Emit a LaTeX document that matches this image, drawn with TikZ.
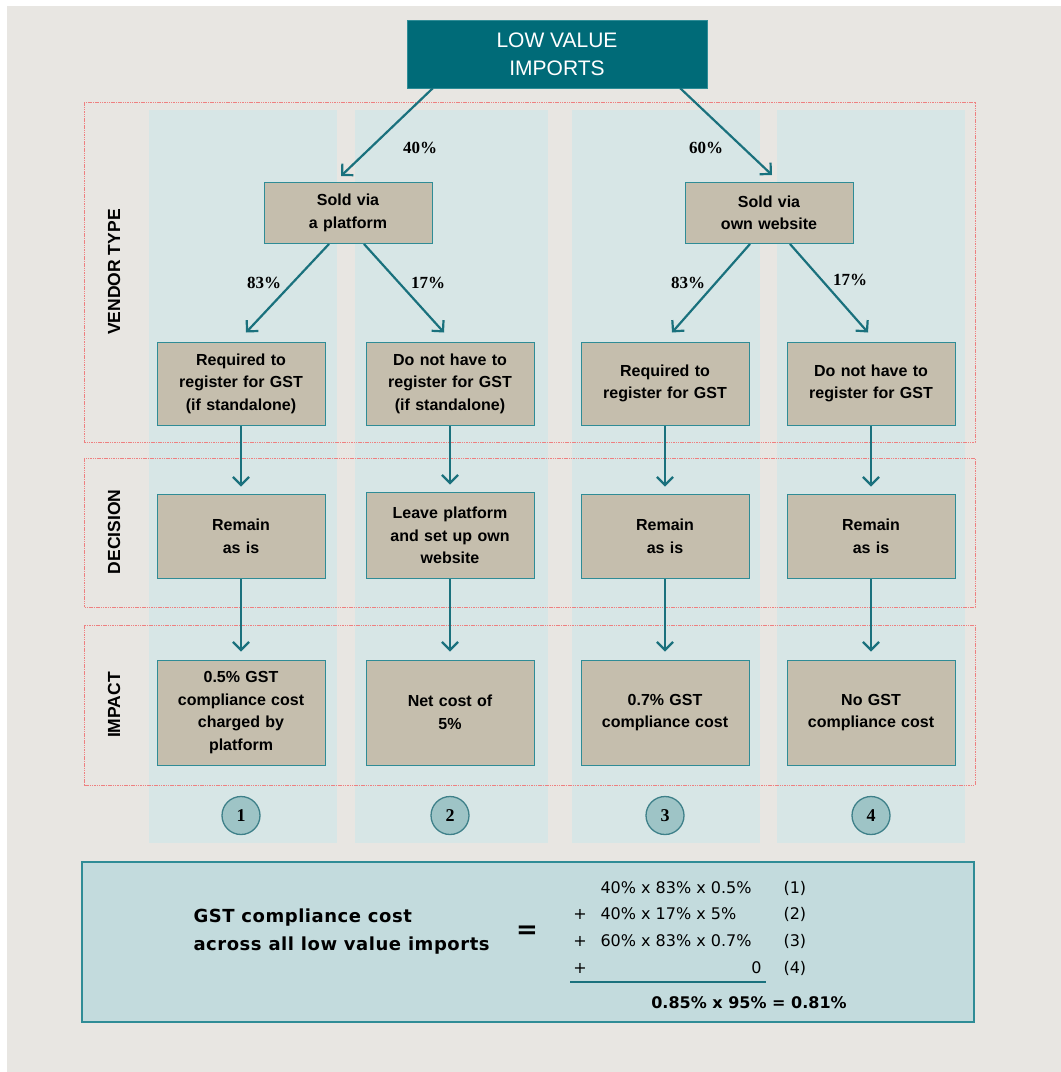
\documentclass[tikz,border=0pt]{standalone}
\usepackage{fontspec}
\setmainfont{Liberation Sans}
\newfontfamily\serfont{Liberation Serif}
\newfontfamily\dvfont{DejaVu Sans}
\newfontfamily\dvwide{DejaVu Sans}[LetterSpace=3]
\usetikzlibrary{arrows.meta,positioning}
\definecolor{bggray}{HTML}{E8E6E2}
\definecolor{colblue}{HTML}{D7E6E6}
\definecolor{boxtan}{HTML}{C5BEAD}
\definecolor{tealline}{HTML}{2F8C96}
\definecolor{tealarrow}{HTML}{1A717D}
\definecolor{tealdark}{HTML}{006B78}
\definecolor{circfill}{HTML}{9EC4C6}
\definecolor{circline}{HTML}{3E8089}
\definecolor{sumfill}{HTML}{C3DBDD}
\definecolor{sectred}{HTML}{EE8080}
\begin{document}
\begin{tikzpicture}[x=1pt,y=-1pt,node distance=209pt]
\tikzstyle{box}=[draw=tealline,fill=boxtan,line width=1pt,minimum width=168pt,text width=160pt,align=center,font=\fontsize{16}{22.5}\selectfont\bfseries]
\tikzstyle{topbox}=[draw=tealline,fill=tealdark,minimum width=300pt,minimum height=68pt,text=white,align=center,font=\fontsize{21}{28}\selectfont]
\tikzstyle{pct}=[font=\serfont\bfseries\fontsize{17}{20}\selectfont]
\tikzstyle{lab}=[rotate=90,font=\bfseries\fontsize{17.5}{20}\selectfont]
\tikzstyle{flow}=[draw=tealarrow,line width=2.2pt,-{Straight Barb[length=8pt,width=16pt]}]
\tikzstyle{sect}=[draw=sectred,line width=0.8pt,dash pattern=on 1.5pt off 0.8pt]
\tikzstyle{num}=[circle,draw=circline,fill=circfill,line width=1.3pt,minimum size=38pt,inner sep=0pt,font=\serfont\bfseries\fontsize{18}{20}\selectfont]
\tikzstyle{sumbox}=[draw=tealline,fill=sumfill,line width=1.5pt,minimum width=892pt,minimum height=160pt]
\tikzstyle{calc}=[font=\dvfont\fontsize{16}{19}\selectfont]
\useasboundingbox (0,0) rectangle (1061,1072);
\fill[bggray] (7,6) rectangle (1061,1072);
\foreach \a/\b in {149/337,355/548,572/760,777/965}
  \fill[colblue] (\a,110) rectangle (\b,843);
\draw[sect] (84,102) rectangle (975,442);
\draw[sect] (84,458) rectangle (975,607);
\draw[sect] (84,625) rectangle (975,785);
\node[lab] (vt) at (114,272) {VENDOR TYPE};
\node[lab] (dc) at (114,532) {DECISION};
\node[lab] (im) at (114,705) {IMPACT};

\node[topbox] (lvi) at (557,54) {LOW VALUE\\IMPORTS};
\node[box,minimum height=61pt] (plat) at (348,213) {Sold via\\a platform};
\node[box,minimum height=61pt] (own) [right of=plat,node distance=421pt] {Sold via\\own website};
\node[box,minimum height=83pt] (r1) at (241,383.5) {Required to\\register for GST\\(if standalone)};
\node[box,minimum height=83pt] (r2) [right of=r1] {Do not have to\\register for GST\\(if standalone)};
\node[box,minimum height=83pt] (r3) at (665,383.5) {Required to\\register for GST};
\node[box,minimum height=83pt] (r4) [right of=r3,node distance=206pt] {Do not have to\\register for GST};

\node[box,minimum height=84pt] (d1) [below of=r1,node distance=153pt] {Remain\\as is};
\node[box,minimum height=86pt] (d2) [below of=r2,node distance=152pt] {Leave platform\\and set up own\\website};
\node[box,minimum height=84pt] (d3) [below of=r3,node distance=153pt] {Remain\\as is};
\node[box,minimum height=84pt] (d4) [below of=r4,node distance=153pt] {Remain\\as is};

\node[box,minimum height=105pt] (m1) [below of=d1,node distance=176pt] {0.5\% GST\\compliance cost\\charged by\\platform};
\node[box,minimum height=105pt] (m2) [below of=d2,node distance=177pt] {Net cost of\\5\%};
\node[box,minimum height=105pt] (m3) [below of=d3,node distance=176pt] {0.7\% GST\\compliance cost};
\node[box,minimum height=105pt] (m4) [below of=d4,node distance=176pt] {No GST\\compliance cost};

\draw[flow] ([xshift=26pt]lvi.south west) -- ([xshift=-7pt,yshift=6pt]plat.north);
\draw[flow] ([xshift=-27pt]lvi.south east) -- ([xshift=3pt,yshift=7pt]own.north);
\draw[flow] ([xshift=-19pt]plat.south) -- ([xshift=5pt,yshift=9pt]r1.north);
\draw[flow] ([xshift=16pt]plat.south) -- ([xshift=-6pt,yshift=9pt]r2.north);
\draw[flow] ([xshift=-19pt]own.south) -- ([xshift=7pt,yshift=9pt]r3.north);
\draw[flow] ([xshift=21pt]own.south) -- ([xshift=-3pt,yshift=9pt]r4.north);
\node[pct] (p40) at (420,148) {40\%};
\node[pct] (p60) at (706,148) {60\%};
\node[pct] (p83a) at (264,283) {83\%};
\node[pct] (p17a) at (428,283) {17\%};
\node[pct] (p83b) at (688,283) {83\%};
\node[pct] (p17b) at (850,280) {17\%};

\foreach \i in {1,...,4} {
  \draw[flow,shorten >=7.5pt] (r\i) -- (d\i);
  \draw[flow,shorten >=8pt] (d\i) -- (m\i);
  \node[num] (n\i) [below of=m\i,node distance=103pt] {\i};
}

\node[sumbox] (sum) at (528,942) {};
\node[anchor=west,align=left,font=\dvwide\bfseries\fontsize{18}{28}\selectfont] (lhs) at (190,932) {GST compliance cost\\across all low value imports};
\node[font=\dvfont\bfseries\fontsize{26}{28}\selectfont] (eq) at (527,932) {=};
\foreach \y/\t [count=\i] in {888/{40\% x 83\% x 0.5\%},914/{40\% x 17\% x 5\%},941/{60\% x 83\% x 0.7\%}}
  \node[calc,anchor=west] (t\i) at (597,\y) {\t};
\node[calc,anchor=east] (t4) at (765,968) {0};
\foreach \y [count=\i from 2] in {914,941,968}
  \node[calc] (plus\i) at (580,\y) {+};
\foreach \y [count=\i] in {888,914,941,968}
  \node[calc,anchor=west] (c\i) at (780,\y) {(\i)};
\draw[tealarrow,line width=2pt] (570,982) -- (766,982);
\node[font=\dvfont\bfseries\fontsize{16}{19}\selectfont] (res) at (749,1003) {0.85\% x 95\% = 0.81\%};
\end{tikzpicture}
\end{document}
